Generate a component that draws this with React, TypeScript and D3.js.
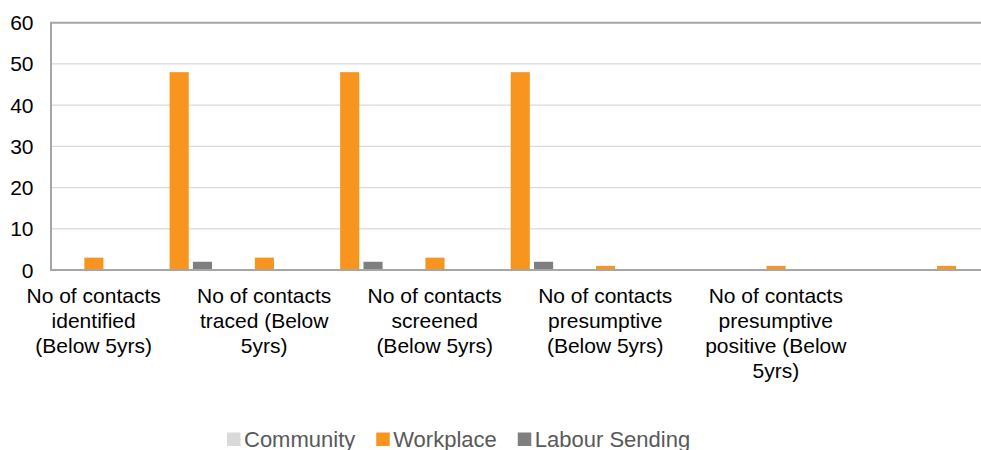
import React from "react";
import * as d3 from "d3";

const categories = [
  "identified",
  "identified (other)",
  "traced",
  "traced (other)",
  "screened",
  "screened (other)",
  "presumptive",
  "presumptive (other)",
  "presumptive positive",
  "presumptive positive (other)",
  "extra",
];
const tickLabels: string[][] = [
  ["No of contacts", "identified", "(Below 5yrs)"],
  [],
  ["No of contacts", "traced (Below", "5yrs)"],
  [],
  ["No of contacts", "screened", "(Below 5yrs)"],
  [],
  ["No of contacts", "presumptive", "(Below 5yrs)"],
  [],
  ["No of contacts", "presumptive", "positive (Below", "5yrs)"],
  [],
  [],
];
const seriesNames = ["Community", "Workplace", "Labour Sending"];
const community = [0, 0, 0, 0, 0, 0, 0, 0, 0, 0, 0];
const workplace = [3, 48, 3, 48, 3, 48, 1, 0, 1, 0, 1];
const labourSending = [0, 2, 0, 2, 0, 2, 0, 0, 0, 0, 0];
const yTicks = [0, 10, 20, 30, 40, 50, 60];

const colors = ["#D9D9D9", "#F7951F", "#7F7F7F"];
const FONT = "'Liberation Sans', Arial, sans-serif";

function textWidth(t: string, size: number) {
  const c = document.createElement("canvas").getContext("2d")!;
  c.font = `${size}px ${FONT}`;
  return c.measureText(t).width;
}

export default function App() {
  const W = 981, H = 450;
  const left = 51, right = 989, top = 22.7, bottom = 270;
  const x = d3.scaleBand<string>().domain(categories).range([left, right]).padding(0);
  const inner = d3
    .scaleBand<string>()
    .domain(seriesNames)
    .range([10, x.bandwidth() - 9.5])
    .paddingInner(0.18);
  const y = d3.scaleLinear().domain([0, 60]).range([bottom, top]);
  const series = [community, workplace, labourSending];

  // legend layout
  const legendSize = 22;
  let lx = 227;
  const legendItems = seriesNames.map((n, i) => {
    const item = { n, i, x: lx };
    lx += 13.5 + 3.5 + textWidth(n, legendSize) + 21;
    return item;
  });

  return (
    <svg
      width={W}
      height={H}
      style={{ position: "absolute", left: 0, top: 0, background: "#fff" }}
      fontFamily={FONT}
    >
      {yTicks.map((t) => (
        <line
          key={"g" + t}
          x1={left}
          x2={W}
          y1={y(t)}
          y2={y(t)}
          stroke={t === 60 || t === 0 ? "#A6A6A6" : "#D9D9D9"}
          strokeWidth={t === 60 || t === 0 ? 2 : 1.3}
        />
      ))}
      <line x1={left} x2={left} y1={top - 1} y2={bottom + 1} stroke="#A6A6A6" strokeWidth={2} />
      {series.map((vals, si) =>
        vals.map((v, ci) =>
          v > 0 ? (
            <rect
              key={si + "-" + ci}
              x={x(categories[ci])! + inner(seriesNames[si])!}
              y={y(v)}
              width={inner.bandwidth()}
              height={y(0) - y(v) - 1}
              fill={colors[si]}
            />
          ) : null
        )
      )}
      {yTicks.map((t) => (
        <text
          key={"t" + t}
          x={33.5}
          y={y(t)}
          dy="0.36em"
          textAnchor="end"
          fontSize={21}
          fill="#000"
        >
          {t}
        </text>
      ))}
      {categories.map((c, ci) => (
        <text
          key={"c" + ci}
          x={x(c)! + x.bandwidth() / 2}
          y={303}
          textAnchor="middle"
          fontSize={21}
          fill="#000"
        >
          {tickLabels[ci].map((ln, li) => (
            <tspan key={li} x={x(c)! + x.bandwidth() / 2} dy={li === 0 ? 0 : 25}>
              {ln}
            </tspan>
          ))}
        </text>
      ))}
      {legendItems.map((it) => (
        <g key={it.n}>
          <rect x={it.x} y={432.5} width={13.5} height={13.5} fill={colors[it.i]} />
          <text x={it.x + 17} y={446.5} fontSize={legendSize} fill="#595959">
            {it.n}
          </text>
        </g>
      ))}
    </svg>
  );
}
